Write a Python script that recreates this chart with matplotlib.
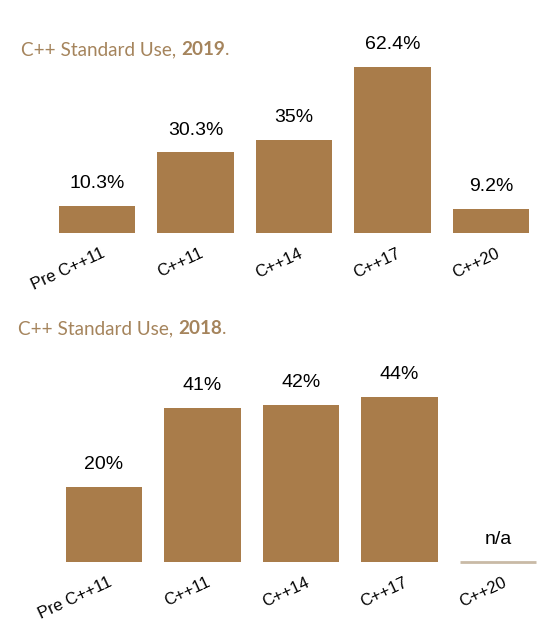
import matplotlib
matplotlib.use("Agg")
import matplotlib.pyplot as plt
import matplotlib.transforms as mtrans

categories = ["Pre C++11", "C++11", "C++14", "C++17", "C++20"]
use_2019 = [10.3, 30.3, 35, 62.4, 9.2]
labels_2019 = ["10.3%", "30.3%", "35%", "62.4%", "9.2%"]
use_2018 = [20, 41, 42, 44, None]
labels_2018 = ["20%", "41%", "42%", "44%", "n/a"]

W, H = 558, 639
bar_col = "#a97c4a"
title_col = "#a5845c"
na_col = "#c9baa6"
tick_font = ["Liberation Sans Narrow", "Liberation Sans", "DejaVu Sans"]
val_font = ["Liberation Sans", "DejaVu Sans"]

fig = plt.figure(figsize=(W / 100, H / 100), dpi=100)


def title(x, y, year):
    kw = dict(color=title_col, fontsize=13.6, family=["Lato", "DejaVu Sans"], va="baseline")
    t = fig.text(x / W, 1 - y / H, "C++ Standard Use, ", **kw)
    t2 = fig.text(0, 0, year, fontweight="bold", **kw)
    t3 = fig.text(0, 0, ".", **kw)
    r = fig.canvas.get_renderer()
    bb = t.get_window_extent(r)
    t2.set_position((bb.x1 / W, 1 - y / H))
    bb2 = t2.get_window_extent(r)
    t3.set_position((bb2.x1 / W, 1 - y / H))


def panel(left, base, scale, vals, labels, ymax):
    ax = fig.add_axes([left / W, (H - base) / H, 492.5 / W, ymax * scale / H])
    for i, v in enumerate(vals):
        if v is None:
            ax.plot([i - 0.39, i + 0.39], [0, 0], color=na_col, lw=2,
                    solid_capstyle="butt", clip_on=False)
            v = 0
        else:
            ax.bar(i, v, width=0.78, color=bar_col)
        ax.annotate(labels[i], (i, v), xytext=(0, 10), textcoords="offset points",
                    ha="center", va="bottom", fontsize=14, family=val_font)
    ax.set_xlim(-0.5, 4.5)
    ax.set_ylim(0, ymax)
    ax.set_xticks(range(len(categories)))
    ax.set_xticklabels(categories, rotation=25, ha="right", rotation_mode="anchor",
                       fontsize=12, family=tick_font)
    ax.tick_params(axis="x", length=0, pad=9)
    ax.set_yticks([])
    for s in ax.spines.values():
        s.set_visible(False)
    off = mtrans.ScaledTranslation(4 / 100, 0, fig.dpi_scale_trans)
    for lab in ax.get_xticklabels():
        lab.set_transform(lab.get_transform() + off)
    return ax


ax1 = panel(47.75, 233, 2.66, use_2019, labels_2019, 70)
ax2 = panel(54.75, 562, 3.75, use_2018, labels_2018, 50)

title(21, 55, "2019")
title(18, 334, "2018")

fig.savefig("out.png", dpi=100)
